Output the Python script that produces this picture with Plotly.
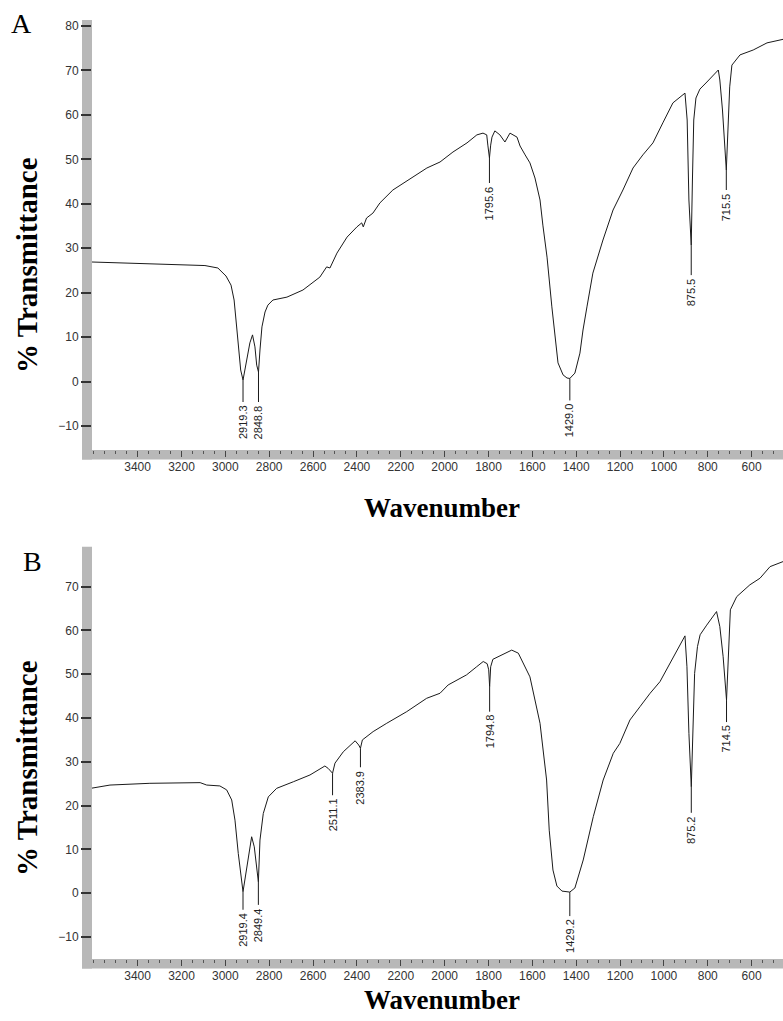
import plotly.graph_objects as go

# ---------------- data ----------------
wnA = [3608, 3481, 3344, 3207, 3093, 3034, 2997, 2974, 2960, 2947, 2930, 2919.3, 2906, 2888, 2876, 2865, 2857,
       2848.8, 2842, 2833, 2819, 2806, 2783, 2719, 2646, 2569, 2538, 2523, 2491, 2445, 2400, 2378, 2371, 2356,
       2327, 2295, 2236, 2145, 2081, 2021, 1962, 1898, 1853, 1825, 1808, 1803, 1795.6, 1790, 1784, 1771, 1748,
       1725, 1702, 1670, 1656, 1633, 1611, 1588, 1565, 1552, 1533, 1511, 1497, 1483, 1460, 1442, 1429.0, 1406,
       1383, 1369, 1351, 1324, 1278, 1232, 1187, 1141, 1096, 1050, 1005, 959, 904, 894, 886, 875.5, 870, 864,
       854, 836, 804, 777, 752, 745, 733, 715.5, 708, 700, 690, 653, 593, 530, 457]
tA = [26.9, 26.7, 26.45, 26.3, 26.1, 25.55, 23.75, 21.7, 18.35, 11.6, 2.6, 0.35, 3.7, 8.7, 10.5, 7.8, 3.7,
      2.15, 7.1, 12.3, 15.65, 17.2, 18.35, 19.0, 20.6, 23.5, 25.8, 25.55, 28.9, 32.5, 34.8, 35.7, 34.8, 36.8,
      37.9, 40.2, 43.1, 46.0, 48.05, 49.4, 51.65, 53.7, 55.5, 55.9, 55.5, 53.2, 50.3, 53.2, 55.0, 56.4, 55.5,
      53.9, 55.9, 55.0, 53.0, 51.0, 49.2, 45.8, 40.85, 35.2, 28.0, 16.8, 10.5, 4.2, 1.5, 0.8, 0.7, 1.9,
      6.4, 11.6, 16.8, 24.4, 31.85, 38.6, 43.1, 48.05, 51.0, 53.7, 58.2, 62.7, 64.9, 58.85, 40.85, 30.7, 45.35, 58.85,
      63.8, 65.8, 67.4, 68.75, 70.1, 67.85, 61.1, 47.6, 58.85, 66.3, 71.2, 73.5, 74.6, 76.2, 77.0]

wnB = [3608, 3526, 3344, 3207, 3115, 3085, 3025, 2994, 2971, 2956, 2941, 2919.4, 2903, 2880, 2868, 2849.4, 2842,
       2827, 2804, 2766, 2690, 2614, 2546, 2531, 2511.1, 2500, 2462, 2430, 2408, 2392, 2383.9, 2375, 2326, 2264,
       2173, 2082, 2021, 1984, 1900, 1854, 1824, 1806, 1799, 1794.8, 1790, 1780, 1740, 1694, 1664, 1634, 1611,
       1565, 1535, 1523, 1506, 1488, 1465, 1429.2, 1406, 1368, 1322, 1277, 1231, 1201, 1155, 1109, 1063, 1018,
       972, 904, 895, 886, 875.2, 868, 860, 847, 835, 805, 760, 745, 730, 714.5, 705, 697, 668, 608, 562, 516, 457]
tB = [24.0, 24.7, 25.1, 25.25, 25.25, 24.7, 24.5, 23.6, 21.3, 16.7, 9.1, 0.35, 6.05, 12.9, 10.6, 2.6, 12.15,
      18.2, 22.0, 23.95, 25.45, 27.0, 29.05, 28.5, 27.4, 29.7, 32.3, 33.9, 34.8, 33.85, 33.1, 35.0, 36.9, 38.8,
      41.45, 44.5, 45.65, 47.55, 49.85, 51.7, 52.9, 52.4, 51.0, 47.15, 51.7, 53.4, 54.4, 55.5, 54.8, 51.7, 49.4,
      38.8, 25.85, 14.4, 5.3, 1.65, 0.5, 0.27, 1.2, 7.6, 17.5, 25.85, 31.95, 34.2, 39.55, 42.6, 45.65, 48.3,
      52.5, 58.75, 51.7, 36.5, 24.3, 36.5, 50.2, 56.3, 59.0, 61.2, 64.3, 60.85, 54.0, 44.1, 54.0, 64.7, 67.7,
      70.4, 71.9, 74.55, 75.7]

peaksA_wn = [2919.3, 2848.8, 1795.6, 1429.0, 875.5, 715.5]
peaksA_t = [0.35, 2.15, 50.3, 0.7, 30.7, 47.6]
peaksA_lbl = ["2919.3", "2848.8", "1795.6", "1429.0", "875.5", "715.5"]

peaksB_wn = [2919.4, 2849.4, 2511.1, 2383.9, 1794.8, 1429.2, 875.2, 714.5]
peaksB_t = [0.35, 2.6, 27.4, 33.1, 47.15, 0.27, 24.3, 44.1]
peaksB_lbl = ["2919.4", "2849.4", "2511.1", "2383.9", "1794.8", "1429.2", "875.2", "714.5"]

x_ticks = [3400, 3200, 3000, 2800, 2600, 2400, 2200, 2000, 1800, 1600, 1400, 1200, 1000, 800, 600]
yA_ticks = [-10, 0, 10, 20, 30, 40, 50, 60, 70, 80]
yB_ticks = [-10, 0, 10, 20, 30, 40, 50, 60, 70]

# ---------------- layout geometry ----------------
W, H = 783, 1021
def px(x):
    return x / W
def py(y):
    return 1 - y / H

LEFT = 92
A_TOP, A_BOT = 20, 450
B_TOP, B_BOT = 546.7, 959
BAR = 9.5
GRAY = "#b8b8b8"
LINE = "#1a1a1a"
SANS = "Liberation Sans, Arial, sans-serif"
SERIF = "Liberation Serif, Times New Roman, serif"

lineA_len = [22, 30, 25, 22, 30, 20]
lineB_len = [18, 23, 22, 19, 25, 24, 26, 22]

fig = go.Figure()
fig.add_trace(go.Scatter(x=wnA, y=tA, mode="lines", line=dict(color=LINE, width=1),
                         xaxis="x", yaxis="y", hoverinfo="skip"))
fig.add_trace(go.Scatter(x=wnB, y=tB, mode="lines", line=dict(color=LINE, width=1),
                         xaxis="x2", yaxis="y2", hoverinfo="skip"))

xcommon = dict(range=[3608, 457], tickmode="array", tickvals=x_ticks, ticks="outside", ticklen=6,
               tickwidth=1, tickcolor="#444", showline=False, showgrid=False, zeroline=False,
               tickfont=dict(family=SANS, size=12, color="#333"),
               minor=dict(tick0=0, dtick=50, ticks="outside", ticklen=3, tickcolor="#555", tickwidth=1),
               domain=[px(LEFT), 1])
ycommon = dict(tickmode="array", ticks="outside", ticklen=10, tickwidth=1.5, tickcolor="#333",
               showline=False, showgrid=False, zeroline=False,
               tickfont=dict(family=SANS, size=12, color="#333"))

fig.update_layout(
    width=W, height=H, margin=dict(l=0, r=0, t=0, b=0),
    paper_bgcolor="white", plot_bgcolor="white", showlegend=False,
    xaxis=dict(**xcommon, anchor="y"),
    yaxis=dict(**ycommon, range=[-15.4, 81.35], tickvals=yA_ticks, anchor="x",
               domain=[py(A_BOT), py(A_TOP)]),
    xaxis2=dict(**xcommon, anchor="y2"),
    yaxis2=dict(**ycommon, range=[-15.0, 79.1], tickvals=yB_ticks, anchor="x2",
                domain=[py(B_BOT), py(B_TOP)]),
)

shapes = []
for top, bot in [(A_TOP, A_BOT), (B_TOP, B_BOT)]:
    shapes.append(dict(type="rect", xref="paper", yref="paper", x0=px(LEFT - 10), x1=px(LEFT),
                       y0=py(bot + BAR), y1=py(top), fillcolor=GRAY, line=dict(width=0), layer="below"))
    shapes.append(dict(type="rect", xref="paper", yref="paper", x0=px(LEFT - 10), x1=1,
                       y0=py(bot + BAR), y1=py(bot), fillcolor=GRAY, line=dict(width=0), layer="below"))

annotations = []
for xs, ys, labels, lens, xr, yr in [(peaksA_wn, peaksA_t, peaksA_lbl, lineA_len, "x", "y"),
                                     (peaksB_wn, peaksB_t, peaksB_lbl, lineB_len, "x2", "y2")]:
    for xv, yv, lb, L in zip(xs, ys, labels, lens):
        shapes.append(dict(type="line", xref=xr, yref=yr, x0=xv, x1=xv, ysizemode="pixel", yanchor=yv,
                           y0=0, y1=-L, line=dict(color=LINE, width=1)))
        annotations.append(dict(x=xv, y=yv, xref=xr, yref=yr, text=lb, showarrow=False, textangle=-90,
                                yanchor="top", xanchor="center", yshift=-L - 1,
                                font=dict(family=SANS, size=11, color="#222")))

for (txt, cx, cy, size, ang, bold) in [
    ("A", 21, 23, 28, 0, False), ("B", 32, 561, 28, 0, False),
    ("% Transmittance", 27, 265, 29, -90, True), ("% Transmittance", 27, 768, 29, -90, True),
    ("Wavenumber", 442, 508, 27, 0, True), ("Wavenumber", 442, 1000, 27, 0, True)]:
    annotations.append(dict(x=px(cx), y=py(cy), xref="paper", yref="paper", text=f"<b>{txt}</b>" if bold else txt,
                            showarrow=False, textangle=ang, xanchor="center", yanchor="middle",
                            font=dict(family=SERIF, size=size, color="black")))

fig.update_layout(shapes=shapes, annotations=annotations)
fig.write_html("out.html", config={"displayModeBar": False},
               post_script="document.body.style.margin='0';document.body.style.overflow='hidden';")
